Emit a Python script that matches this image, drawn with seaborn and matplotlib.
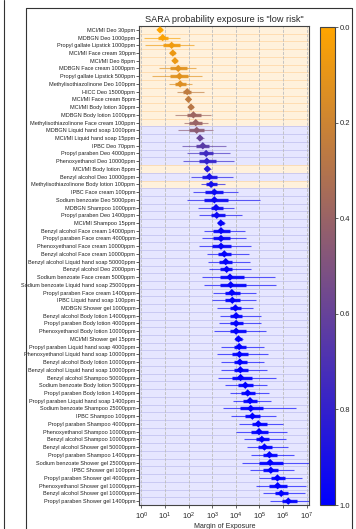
import numpy as np
import pandas as pd
import matplotlib
matplotlib.use("Agg")
import matplotlib.pyplot as plt
import seaborn as sns
from matplotlib.colors import LinearSegmentedColormap, Normalize
from matplotlib.cm import ScalarMappable
from matplotlib.lines import Line2D

labels = [
    "MCI/MI Deo 30ppm", "MDBGN Deo 1000ppm", "Propyl gallate Lipstick 1000ppm",
    "MCI/MI Face cream 30ppm", "MCI/MI Deo 8ppm", "MDBGN Face cream 1000ppm",
    "Propyl gallate Lipstick 500ppm", "Methylisothiazolinone Deo 100ppm", "HICC Deo 15000ppm",
    "MCI/MI Face cream 8ppm", "MCI/MI Body lotion 30ppm", "MDBGN Body lotion 1000ppm",
    "Methylisothiazolinone Face cream 100ppm", "MDBGN Liquid hand soap 1000ppm",
    "MCI/MI Liquid hand soap 15ppm", "IPBC Deo 70ppm", "Propyl paraben Deo 4000ppm",
    "Phenoxyethanol Deo 10000ppm", "MCI/MI Body lotion 8ppm", "Benzyl alcohol Deo 10000ppm",
    "Methylisothiazolinone Body lotion 100ppm", "IPBC Face cream 100ppm",
    "Sodium benzoate Deo 5000ppm", "MDBGN Shampoo 1000ppm", "Propyl paraben Deo 1400ppm",
    "MCI/MI Shampoo 15ppm", "Benzyl alcohol Face cream 14000ppm",
    "Propyl paraben Face cream 4000ppm", "Phenoxyethanol Face cream 10000ppm",
    "Benzyl alcohol Face cream 10000ppm", "Benzyl alcohol Liquid hand soap 50000ppm",
    "Benzyl alcohol Deo 2000ppm", "Sodium benzoate Face cream 5000ppm",
    "Sodium benzoate Liquid hand soap 25000ppm", "Propyl paraben Face cream 1400ppm",
    "IPBC Liquid hand soap 100ppm", "MDBGN Shower gel 1000ppm",
    "Benzyl alcohol Body lotion 14000ppm", "Propyl paraben Body lotion 4000ppm",
    "Phenoxyethanol Body lotion 10000ppm", "MCI/MI Shower gel 15ppm",
    "Propyl paraben Liquid hand soap 4000ppm", "Phenoxyethanol Liquid hand soap 10000ppm",
    "Benzyl alcohol Body lotion 10000ppm", "Benzyl alcohol Liquid hand soap 10000ppm",
    "Benzyl alcohol Shampoo 50000ppm", "Sodium benzoate Body lotion 5000ppm",
    "Propyl paraben Body lotion 1400ppm", "Propyl paraben Liquid hand soap 1400ppm",
    "Sodium benzoate Shampoo 25000ppm", "IPBC Shampoo 100ppm",
    "Propyl paraben Shampoo 4000ppm", "Phenoxyethanol Shampoo 10000ppm",
    "Benzyl alcohol Shampoo 10000ppm", "Benzyl alcohol Shower gel 50000ppm",
    "Propyl paraben Shampoo 1400ppm", "Sodium benzoate Shower gel 25000ppm",
    "IPBC Shower gel 100ppm", "Propyl paraben Shower gel 4000ppm",
    "Phenoxyethanol Shower gel 10000ppm", "Benzyl alcohol Shower gel 10000ppm",
    "Propyl paraben Shower gel 1400ppm",
]

# log10 of Margin of Exposure
median_log = [0.79, 0.90, 1.28, 1.33, 1.42, 1.56, 1.61, 1.64, 1.94, 1.99,
              2.10, 2.20, 2.30, 2.34, 2.48, 2.60, 2.74, 2.77, 2.79, 2.88,
              2.95, 3.09, 3.09, 3.16, 3.19, 3.36, 3.37, 3.37, 3.37, 3.51,
              3.57, 3.61, 3.75, 3.78, 3.83, 3.85, 3.98, 4.01, 4.01, 4.01,
              4.11, 4.14, 4.15, 4.17, 4.19, 4.20, 4.40, 4.50, 4.60, 4.63,
              4.70, 4.95, 4.98, 5.10, 5.21, 5.42, 5.45, 5.48, 5.76, 5.77,
              5.92, 6.22]
p05_log = [0.68, 0.12, 0.16, 1.18, 1.30, 0.75, 0.44, 1.17, 1.50, 1.87,
           1.97, 1.43, 1.82, 1.54, 2.32, 1.71, 1.92, 1.77, 2.63, 2.12,
           2.52, 2.20, 1.92, 2.38, 2.43, 3.19, 2.64, 2.57, 2.45, 2.78,
           2.84, 2.87, 2.56, 2.63, 3.05, 2.98, 3.20, 3.31, 3.27, 3.09,
           3.91, 3.35, 3.19, 3.35, 3.35, 3.25, 3.56, 3.76, 3.86, 3.44,
           3.80, 4.15, 4.01, 4.36, 4.46, 4.64, 4.25, 4.60, 5.00, 4.86,
           5.17, 5.45]
p95_log = [0.92, 1.63, 2.22, 1.46, 1.53, 2.32, 2.56, 2.15, 2.63, 2.12,
           2.23, 2.96, 2.82, 3.04, 2.63, 3.59, 3.76, 3.94, 2.94, 3.88,
           3.56, 4.10, 5.01, 3.91, 4.24, 3.55, 4.40, 4.43, 4.62, 4.55,
           4.59, 4.62, 5.67, 5.72, 4.87, 4.86, 4.73, 5.05, 5.05, 5.26,
           4.32, 5.19, 5.35, 5.20, 5.30, 5.70, 5.30, 5.40, 5.50, 6.55,
           5.70, 6.01, 6.18, 6.13, 6.20, 6.47, 7.10, 6.47, 6.79, 6.97,
           6.93, 7.10]
p25_log = [0.72, 0.70, 0.93, 1.23, 1.36, 1.21, 1.21, 1.41, 1.77, 1.92,
           2.02, 1.92, 2.02, 2.02, 2.40, 2.32, 2.42, 2.42, 2.68, 2.58,
           2.75, 2.68, 2.63, 2.93, 2.93, 3.24, 3.04, 3.04, 2.99, 3.24,
           3.29, 3.34, 3.34, 3.34, 3.55, 3.55, 3.75, 3.75, 3.75, 3.75,
           3.98, 3.90, 3.85, 3.90, 3.90, 3.85, 4.10, 4.20, 4.30, 4.18,
           4.39, 4.67, 4.64, 4.86, 4.95, 5.17, 5.00, 5.17, 5.48, 5.42,
           5.66, 5.94]
p75_log = [0.86, 1.11, 1.64, 1.41, 1.49, 1.92, 1.97, 1.87, 2.12, 2.07,
           2.17, 2.53, 2.58, 2.63, 2.58, 2.88, 3.04, 3.14, 2.88, 3.19,
           3.19, 3.44, 3.65, 3.44, 3.55, 3.49, 3.75, 3.75, 3.80, 3.80,
           3.85, 3.85, 4.36, 4.41, 4.16, 4.16, 4.21, 4.26, 4.31, 4.41,
           4.24, 4.41, 4.52, 4.46, 4.52, 4.67, 4.72, 4.82, 4.88, 5.17,
           5.03, 5.31, 5.38, 5.42, 5.52, 5.76, 6.00, 5.80, 6.08, 6.16,
           6.22, 6.58]
# probability that the exposure is NOT "low risk" (colour scale 0 -> 1)
prob = [0.00, 0.02, 0.06, 0.08, 0.08, 0.12, 0.12, 0.14, 0.25, 0.25,
        0.28, 0.38, 0.40, 0.45, 0.60, 0.65, 0.75, 0.80, 0.85, 0.90,
        0.92, 0.95, 0.95, 0.95, 0.95, 0.97, 0.97, 0.97, 0.97, 0.98,
        0.98, 0.98, 0.98, 0.98, 0.99, 0.99, 0.99, 0.99, 0.99, 0.99,
        1.0, 1.0, 1.0, 1.0, 1.0, 1.0, 1.0, 1.0, 1.0, 1.0,
        1.0, 1.0, 1.0, 1.0, 1.0, 1.0, 1.0, 1.0, 1.0, 1.0,
        1.0, 1.0]
# background band: "o" = orange (low risk), "b" = blue
band = ["o"] * 13 + ["b"] * 5 + ["o", "b", "o"] + ["b"] * 41

sns.set_style("white")
plt.rcParams["font.family"] = ["Liberation Sans Narrow", "Liberation Sans", "DejaVu Sans"]

n = len(labels)
row = np.arange(n)
df = pd.DataFrame({
    "label": labels, "row": row,
    "moe": 10 ** np.array(median_log),
    "p05": 10 ** np.array(p05_log), "p95": 10 ** np.array(p95_log),
    "p25": 10 ** np.array(p25_log), "p75": 10 ** np.array(p75_log),
    "prob": prob, "band": band,
})

cmap = LinearSegmentedColormap.from_list("ob", ["#FFA500", "#0000FF"])
norm = Normalize(0, 1)
colors = [cmap(norm(p)) for p in prob]

W, H = 356, 529
fig = plt.figure(figsize=(W / 100, H / 100), dpi=100)
fig.patch.set_facecolor("white")
ax = fig.add_axes([139.3 / W, 1 - 505 / H, 170 / W, 479 / H])
cax = fig.add_axes([320 / W, 1 - 505 / H, 15 / W, 478 / H])

band_style = {"o": ("#fff1dc", "#ffdcae"), "b": ("#e6e6ff", "#c6c6f2")}
for r, b in zip(df["row"], df["band"]):
    fc, ec = band_style[b]
    ax.axhspan(r - 0.5, r + 0.5, facecolor=fc, edgecolor=ec, lw=0.6, zorder=0.5)

ax.set_xscale("log")
ax.hlines(df["row"], df["p05"], df["p95"], colors=colors, lw=0.8, alpha=0.65, zorder=2)
ax.hlines(df["row"], df["p25"], df["p75"], colors=colors, lw=2.4, alpha=0.9, zorder=3)
sns.scatterplot(data=df, x="moe", y="row", hue="prob", palette=cmap, hue_norm=(0, 1),
                marker="D", s=14, linewidth=0, legend=False, ax=ax, zorder=4)

ax.set_xlim(10 ** -0.09, 10 ** 7.11)
ax.set_ylim(n - 0.5, -0.5)
ax.set_yticks(row)
ax.set_yticklabels(labels)
ax.set_xticks([10 ** k for k in range(8)])
ax.grid(True, axis="x", which="major", ls="--", color="#bdbdbd", lw=0.6)
ax.set_axisbelow("line")
ax.tick_params(axis="y", labelsize=4.0, length=2, width=0.5, pad=1, left=True, colors="#222222")
ax.tick_params(axis="x", which="major", labelsize=5.5, length=2.5, width=0.5, pad=1.5, bottom=True)
ax.tick_params(axis="x", which="minor", length=1.5, width=0.4, bottom=True)
for s in ax.spines.values():
    s.set_color("#444444")
    s.set_linewidth(0.8)
ax.set_ylabel("")
ax.set_xlabel("Margin of Exposure", fontsize=5.0, labelpad=1)
ax.set_title('SARA probability exposure is "low risk"', fontsize=6.6, pad=3)

cb = fig.colorbar(ScalarMappable(norm=norm, cmap=cmap), cax=cax)
cax.invert_yaxis()
cb.set_ticks([0.0, 0.2, 0.4, 0.6, 0.8, 1.0])
cb.ax.tick_params(labelsize=5.5, length=2, width=0.5, pad=1.5)
cb.outline.set_edgecolor("#444444")
cb.outline.set_linewidth(0.8)

# screenshot frame lines
fig.add_artist(Line2D([4 / W, 4 / W], [0, 1], transform=fig.transFigure, color="#333333", lw=0.8))
fig.add_artist(Line2D([26 / W, 26 / W, 352 / W, 352 / W], [0, 1 - 8 / H, 1 - 8 / H, 0],
                      transform=fig.transFigure, color="#333333", lw=0.8))

fig.savefig("out.png", dpi=100)
